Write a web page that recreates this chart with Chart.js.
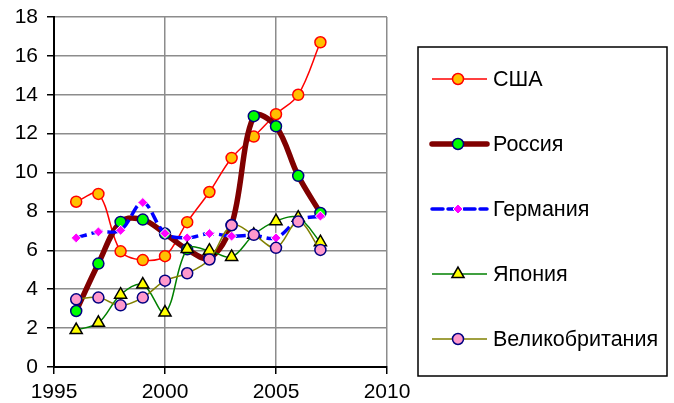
<!DOCTYPE html>
<html>
<head>
<meta charset="utf-8">
<script src="https://cdn.jsdelivr.net/npm/chart.js@4/dist/chart.umd.min.js"></script>
<style>
  body { margin: 0; background: #fff; }
  #wrap { width: 674px; height: 403px; }
</style>
</head>
<body>
<div id="wrap"><canvas id="grafico"></canvas></div>
<script>
const years = [1996, 1997, 1998, 1999, 2000, 2001, 2002, 2003, 2004, 2005, 2006, 2007];
const names = ['США', 'Россия', 'Германия', 'Япония', 'Великобритания'];
const usa = [8.5, 8.9, 5.95, 5.5, 5.7, 7.45, 9.0, 10.75, 11.85, 13.0, 14.0, 16.7];
const russia = [2.88, 5.32, 7.46, 7.58, 6.86, 6.05, 5.6, 7.3, 12.9, 12.38, 9.83, 7.92];
const germany = [6.64, 6.95, 7.03, 8.46, 6.87, 6.64, 6.86, 6.73, 6.77, 6.64, 7.55, 7.76];
const japan = [1.9, 2.27, 3.72, 4.24, 2.8, 6.07, 5.98, 5.66, 6.8, 7.5, 7.68, 6.42];
const uk = [3.48, 3.57, 3.17, 3.57, 4.44, 4.82, 5.53, 7.29, 6.8, 6.13, 7.48, 6.02];
const xMin = 1995, xMax = 2010, xStep = 5;
const yMin = 0, yMax = 18, yStep = 2;

const fonte = "'Liberation Sans', Arial, sans-serif";

function pontos(valores) {
    return years.map((ano, i) => ({ x: ano, y: valores[i] }));
}

// legenda desenhada à mão, com a linha passando pelo marcador
const legendaBox = {
    id: 'legendaBox',
    afterDraw(chart) {
        const ctx = chart.ctx;
        const left = 418, top = 47, right = 667, bottom = 376;
        ctx.save();
        ctx.strokeStyle = '#000';
        ctx.lineWidth = 1.5;
        ctx.strokeRect(left, top, right - left, bottom - top);

        chart.data.datasets.forEach((ds, i) => {
            const y = top + 32 + i * 65;
            ctx.save();
            ctx.strokeStyle = ds.borderColor;
            ctx.lineWidth = ds.borderWidth;
            ctx.lineCap = ds.borderWidth > 3 ? 'round' : 'butt';
            ctx.setLineDash(ds.borderDash || []);
            ctx.beginPath();
            ctx.moveTo(432, y);
            ctx.lineTo(487, y);
            ctx.stroke();
            ctx.restore();

            ctx.save();
            ctx.fillStyle = ds.pointBackgroundColor;
            ctx.strokeStyle = ds.pointBorderColor;
            ctx.lineWidth = ds.pointBorderWidth;
            Chart.helpers.drawPoint(ctx, {
                pointStyle: ds.pointStyle,
                radius: ds.pointRadius,
                rotation: 0,
                borderWidth: ds.pointBorderWidth
            }, 458, y);
            ctx.restore();

            ctx.fillStyle = '#000';
            ctx.font = '21.5px ' + fonte;
            ctx.textBaseline = 'middle';
            ctx.fillText(ds.label, 493, y + 1);
        });
        ctx.restore();
    }
};

const ctx = document.getElementById('grafico').getContext('2d');
new Chart(ctx, {
    type: 'line',
    data: {
        datasets: [{
            label: names[0],
            data: pontos(usa),
            borderColor: '#FF0000',
            borderWidth: 1.5,
            pointStyle: 'circle',
            pointRadius: 5.5,
            pointBackgroundColor: '#FFC000',
            pointBorderColor: '#FF0000',
            pointBorderWidth: 1.5,
            tension: 0.35,
            order: 5
        }, {
            label: names[1],
            data: pontos(russia),
            borderColor: '#800000',
            borderWidth: 5.5,
            pointStyle: 'circle',
            pointRadius: 5.5,
            pointBackgroundColor: '#00FF00',
            pointBorderColor: '#000080',
            pointBorderWidth: 1.5,
            tension: 0.35,
            order: 4
        }, {
            label: names[2],
            data: pontos(germany),
            borderColor: '#0000FF',
            borderWidth: 3.5,
            borderDash: [11, 5],
            pointStyle: 'rectRot',
            pointRadius: 5,
            pointBackgroundColor: '#FF00FF',
            pointBorderColor: '#FFFFFF',
            pointBorderWidth: 1,
            tension: 0.35,
            order: 3
        }, {
            label: names[3],
            data: pontos(japan),
            borderColor: '#008000',
            borderWidth: 1.5,
            pointStyle: 'triangle',
            pointRadius: 7,
            pointBackgroundColor: '#FFFF00',
            pointBorderColor: '#000000',
            pointBorderWidth: 1.5,
            tension: 0.35,
            order: 2
        }, {
            label: names[4],
            data: pontos(uk),
            borderColor: '#808000',
            borderWidth: 1.5,
            pointStyle: 'circle',
            pointRadius: 5.5,
            pointBackgroundColor: '#FF99CC',
            pointBorderColor: '#000080',
            pointBorderWidth: 1.5,
            tension: 0.35,
            order: 1
        }]
    },
    options: {
        responsive: true,
        maintainAspectRatio: false,
        animation: false,
        layout: { padding: { top: 17, right: 287, left: 0, bottom: 0 } },
        plugins: {
            legend: { display: false },
            tooltip: { enabled: false }
        },
        scales: {
            x: {
                type: 'linear',
                min: xMin,
                max: xMax,
                afterFit: s => { s.height = 36; },
                ticks: {
                    stepSize: xStep,
                    color: '#000',
                    padding: 6,
                    font: { family: fonte, size: 21 },
                    maxRotation: 0,
                    callback: v => String(v)
                },
                grid: { color: '#8c8c8c', lineWidth: 1.5, tickColor: '#000', tickLength: 7 },
                border: { color: '#000', width: 2 }
            },
            y: {
                min: yMin,
                max: yMax,
                afterFit: s => { s.width = 54; s.paddingTop = 0; s.paddingBottom = 0; },
                ticks: {
                    stepSize: yStep,
                    color: '#000',
                    padding: 9,
                    font: { family: fonte, size: 21 }
                },
                grid: { color: '#8c8c8c', lineWidth: 1.5, tickColor: '#000', tickLength: 7 },
                border: { color: '#000', width: 2 }
            }
        }
    },
    plugins: [legendaBox]
});
</script>
</body>
</html>
